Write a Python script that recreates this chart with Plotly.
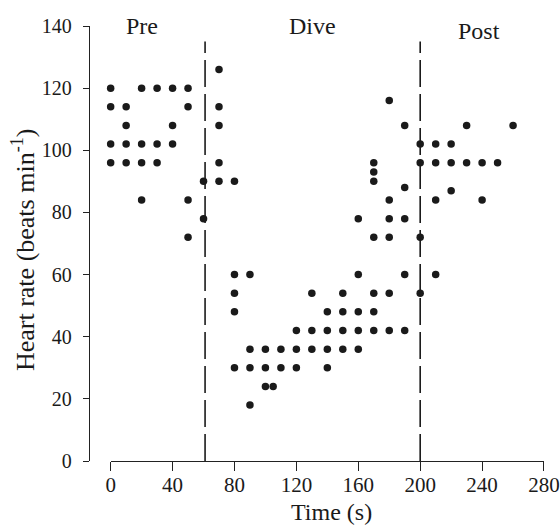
import plotly.graph_objects as go

# Heart rate readings (beats/min) grouped by time (s)
times = [0, 10, 20, 30, 40, 50, 60, 70, 80, 90, 100, 105, 110, 120, 130, 140,
         150, 160, 170, 180, 190, 200, 210, 220, 230, 240, 250, 260]
rates = [
    [120, 114, 102, 96],          # 0
    [114, 108, 102, 96],          # 10
    [120, 102, 96, 84],           # 20
    [120, 102, 96],               # 30
    [120, 108, 102],              # 40
    [120, 114, 84, 72],           # 50
    [90, 78],                     # 60
    [126, 114, 108, 96, 90],      # 70
    [90, 60, 54, 48, 30],         # 80
    [60, 36, 30, 18],             # 90
    [36, 30, 24],                 # 100
    [24],                         # 105
    [36, 30],                     # 110
    [42, 36, 30],                 # 120
    [54, 42, 36],                 # 130
    [48, 42, 36, 30],             # 140
    [54, 48, 42, 36],             # 150
    [78, 60, 48, 42, 36],         # 160
    [96, 93, 90, 72, 54, 48, 42], # 170
    [116, 84, 78, 72, 54, 42],    # 180
    [108, 88, 78, 60, 42],        # 190
    [102, 96, 72, 54],            # 200
    [102, 96, 84, 60],            # 210
    [102, 96, 87],                # 220
    [108, 96],                    # 230
    [96, 84],                     # 240
    [96],                         # 250
    [108],                        # 260
]
phase_bounds = [61, 200]
phase_names = ["Pre", "Dive", "Post"]
phase_label_x = [20.5, 130.5, 238.3]
phase_label_y = [140, 140, 138.4]
x_ticks = [0, 40, 80, 120, 160, 200, 240, 280]
y_ticks = [0, 20, 40, 60, 80, 100, 120, 140]

xs, ys = [], []
for t, rs in zip(times, rates):
    for r in rs:
        xs.append(t)
        ys.append(r)

FONT = "Liberation Serif"
AX = "#222222"
TXT = "#1a1a1a"

fig = go.Figure()
fig.add_trace(go.Scatter(
    x=xs, y=ys, mode="markers",
    marker=dict(size=7.5, color=TXT, line=dict(width=0)),
    cliponaxis=False, showlegend=False, hoverinfo="skip",
))

for b in phase_bounds:
    fig.add_shape(type="line", xref="x", yref="y", x0=b, x1=b, y0=0, y1=135,
                  line=dict(color=TXT, width=1.6, dash="27px,7px"))

for name, lx, ly in zip(phase_names, phase_label_x, phase_label_y):
    fig.add_annotation(x=lx, y=ly, xref="x", yref="y", text=name, showarrow=False,
                       font=dict(family=FONT, size=24, color=TXT),
                       xanchor="center", yanchor="middle")

fig.add_annotation(x=0.534, y=-0.118, xref="paper", yref="paper", text="Time (s)",
                   showarrow=False, font=dict(family=FONT, size=24, color=TXT),
                   xanchor="center", yanchor="middle")
fig.add_annotation(x=-0.144, y=0.486, xref="paper", yref="paper",
                   text="Heart rate (beats min<sup>-1</sup>)", textangle=-90,
                   showarrow=False, font=dict(family=FONT, size=26, color=TXT),
                   xanchor="center", yanchor="middle")

fig.update_layout(
    width=560, height=528, autosize=False,
    margin=dict(l=89, r=16, t=26, b=67, pad=0),
    paper_bgcolor="white", plot_bgcolor="white",
    font=dict(family=FONT, size=20, color=TXT),
    xaxis=dict(domain=[0.0476, 1], range=[0, 280], tickvals=x_ticks,
               automargin=False, tickfont=dict(size=21),
               ticklabeloverflow="allow", ticklabelstandoff=-4,
               showline=True, linecolor=AX, linewidth=1.3, ticks="outside",
               ticklen=9, tickwidth=1.3, tickcolor=AX, showgrid=False,
               zeroline=False, fixedrange=True),
    yaxis=dict(anchor="free", position=0, range=[0, 140], tickvals=y_ticks,
               automargin=False, tickfont=dict(size=20), ticklabelstandoff=7,
               ticklabeloverflow="allow",
               showline=True, linecolor=AX, linewidth=1.3, ticks="outside",
               ticklen=6, tickwidth=1.3, tickcolor=AX, showgrid=False,
               zeroline=False, fixedrange=True),
)

fig.write_html(
    "out.html",
    config={"responsive": False, "displayModeBar": False},
    post_script="document.body.style.margin='0';document.body.style.overflow='hidden';",
)
